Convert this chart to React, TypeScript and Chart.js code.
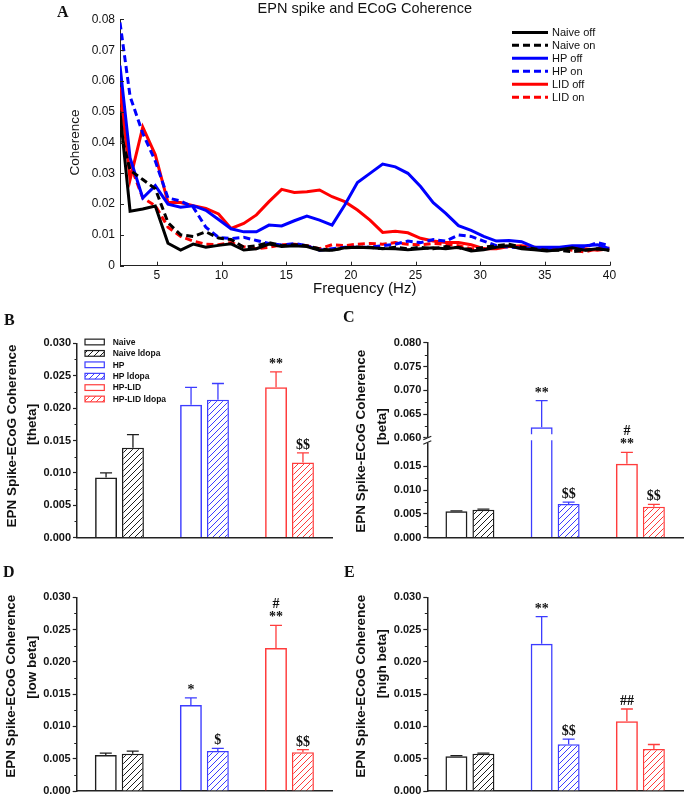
import React, { useEffect, useRef } from 'react';
import { Chart, registerables } from 'chart.js';

Chart.register(...registerables);

const SANS = '"Liberation Sans", Arial, Helvetica, sans-serif';
const SERIF = '"Liberation Serif", "Times New Roman", serif';
const AXIS = '#222';

// ---------------- Panel A: spectra ----------------
const FREQ = [2.15, 2.93, 3.91, 4.88, 5.86, 6.84, 7.81, 8.79, 9.77, 10.74, 11.72, 12.7, 13.67, 14.65, 15.63, 16.6, 17.58, 18.55, 19.53, 20.51, 21.48, 22.46, 23.44, 24.41, 25.39, 26.37, 27.34, 28.32, 29.3, 30.27, 31.25, 32.23, 33.2, 34.18, 35.16, 36.13, 37.11, 38.09, 39.06, 40.0];
const NAIVE_OFF = [0.05, 0.0177, 0.0184, 0.0194, 0.0073, 0.0051, 0.007, 0.006, 0.0066, 0.0071, 0.0051, 0.0055, 0.007, 0.0062, 0.0065, 0.0062, 0.005, 0.005, 0.0058, 0.006, 0.0058, 0.0056, 0.0055, 0.0052, 0.0055, 0.0058, 0.0055, 0.006, 0.0048, 0.0052, 0.006, 0.0065, 0.0055, 0.0052, 0.0048, 0.0052, 0.0058, 0.005, 0.0055, 0.005];
const NAIVE_ON = [0.044, 0.031, 0.028, 0.025, 0.014, 0.01, 0.0095, 0.011, 0.009, 0.0085, 0.006, 0.0065, 0.0075, 0.0065, 0.0068, 0.0065, 0.0055, 0.005, 0.0058, 0.006, 0.006, 0.0055, 0.006, 0.0055, 0.006, 0.0055, 0.0062, 0.0058, 0.0052, 0.006, 0.0065, 0.007, 0.006, 0.0055, 0.005, 0.005, 0.0045, 0.005, 0.0055, 0.005];
const HP_OFF = [0.065, 0.035, 0.022, 0.026, 0.02, 0.019, 0.0195, 0.018, 0.015, 0.012, 0.011, 0.011, 0.0132, 0.0129, 0.0146, 0.0161, 0.0148, 0.0132, 0.0197, 0.027, 0.03, 0.033, 0.0321, 0.03, 0.0257, 0.0205, 0.017, 0.013, 0.0115, 0.0095, 0.008, 0.0082, 0.0078, 0.006, 0.006, 0.006, 0.0065, 0.0065, 0.0068, 0.0055];
const HP_ON = [0.079, 0.055, 0.043, 0.034, 0.022, 0.021, 0.019, 0.0125, 0.0092, 0.0088, 0.0092, 0.0082, 0.0072, 0.0067, 0.0072, 0.0065, 0.005, 0.0055, 0.006, 0.006, 0.006, 0.0065, 0.007, 0.008, 0.0075, 0.0085, 0.008, 0.01, 0.0095, 0.008, 0.0065, 0.006, 0.0058, 0.0055, 0.0055, 0.0055, 0.006, 0.006, 0.0075, 0.0065];
const LID_OFF = [0.058, 0.028, 0.045, 0.036, 0.0205, 0.0205, 0.0195, 0.0186, 0.0168, 0.0121, 0.0137, 0.0165, 0.0208, 0.0248, 0.0238, 0.024, 0.0246, 0.0224, 0.0208, 0.0181, 0.0148, 0.0108, 0.0112, 0.0107, 0.0089, 0.008, 0.0075, 0.0075, 0.0068, 0.0055, 0.0055, 0.0062, 0.0065, 0.006, 0.0055, 0.0055, 0.006, 0.0055, 0.005, 0.0055];
const LID_ON = [0.055, 0.033, 0.022, 0.0195, 0.0125, 0.0095, 0.008, 0.007, 0.0068, 0.0075, 0.0062, 0.0055, 0.006, 0.0068, 0.007, 0.0065, 0.0055, 0.0068, 0.0065, 0.007, 0.0072, 0.007, 0.0075, 0.007, 0.0068, 0.0072, 0.007, 0.0065, 0.0055, 0.0055, 0.006, 0.0065, 0.006, 0.0055, 0.0055, 0.0058, 0.005, 0.0045, 0.0055, 0.006];
const A_LABELS = ['Naive off', 'Naive on', 'HP off', 'HP on', 'LID off', 'LID on'];
const A_X_TICKS = [5, 10, 15, 20, 25, 30, 35, 40];
const A_Y_TICKS = [0, 0.01, 0.02, 0.03, 0.04, 0.05, 0.06, 0.07, 0.08];

// ---------------- Bar panels ----------------
const GROUPS = ['Naive', 'HP', 'HP-LID'];
const BAR_LEGEND = ['Naive', 'Naive ldopa', 'HP', 'HP ldopa', 'HP-LID', 'HP-LID ldopa'];
const BAR_TICKS = [0, 0.005, 0.01, 0.015, 0.02, 0.025, 0.03];
const BETA_LOW_TICKS = [0, 0.005, 0.01, 0.015];
const BETA_HIGH_TICKS = [0.06, 0.065, 0.07, 0.075, 0.08];

const THETA_OFF = [0.0093, 0.0205, 0.0232];
const THETA_OFF_SEM = [0.0007, 0.0027, 0.0024];
const THETA_ON = [0.0139, 0.0213, 0.0116];
const THETA_ON_SEM = [0.002, 0.0025, 0.0015];
const THETA_SIG_OFF = [[], [], ['**']];
const THETA_SIG_ON = [[], [], ['$$']];

const BETA_OFF = [0.00555, 0.0622, 0.01555];
const BETA_OFF_SEM = [0.0001, 0.0056, 0.0024];
const BETA_ON = [0.0059, 0.0071, 0.0065];
const BETA_ON_SEM = [0.0001, 0.0004, 0.0005];
const BETA_SIG_OFF = [[], ['**'], ['#', '**']];
const BETA_SIG_ON = [[], ['$$'], ['$$']];

const LOWBETA_OFF = [0.00558, 0.01332, 0.02215];
const LOWBETA_OFF_SEM = [0.0003, 0.0011, 0.0035];
const LOWBETA_ON = [0.00578, 0.0062, 0.006];
const LOWBETA_ON_SEM = [0.0004, 0.0004, 0.0004];
const LOWBETA_SIG_OFF = [[], ['*'], ['#', '**']];
const LOWBETA_SIG_ON = [[], ['$'], ['$$']];

const HIGHBETA_OFF = [0.00537, 0.02282, 0.0108];
const HIGHBETA_OFF_SEM = [0.0001, 0.0042, 0.0019];
const HIGHBETA_ON = [0.00578, 0.00723, 0.0065];
const HIGHBETA_ON_SEM = [0.0001, 0.0008, 0.0007];
const HIGHBETA_SIG_OFF = [[], ['**'], ['##']];
const HIGHBETA_SIG_ON = [[], ['$$'], []];

const GROUP_COLORS = ['#1e1e1e', '#3c3cff', '#ff3c3c'];

function makeHatch(color: string): any {
  const s = 6;
  const c = document.createElement('canvas');
  c.width = s;
  c.height = s;
  const g = c.getContext('2d');
  if (!g) return '#fff';
  g.fillStyle = '#fff';
  g.fillRect(0, 0, s, s);
  g.strokeStyle = color;
  g.lineWidth = 1;
  g.beginPath();
  g.moveTo(-1, s + 1);
  g.lineTo(s + 1, -1);
  g.moveTo(-1, 1);
  g.lineTo(1, -1);
  g.moveTo(s - 1, s + 1);
  g.lineTo(s + 1, s - 1);
  g.stroke();
  return g.createPattern(c, 'repeat') || '#fff';
}

function LinePanel() {
  const ref = useRef<HTMLCanvasElement>(null);
  useEffect(() => {
    const canvas = ref.current;
    if (!canvas) return;
    const series = [
      { data: NAIVE_OFF, color: '#000000', dash: [] as number[] },
      { data: NAIVE_ON, color: '#000000', dash: [7, 4] },
      { data: HP_OFF, color: '#0000ff', dash: [] as number[] },
      { data: HP_ON, color: '#0000ff', dash: [7, 4] },
      { data: LID_OFF, color: '#ff0000', dash: [] as number[] },
      { data: LID_ON, color: '#ff0000', dash: [7, 4] },
    ];
    const extras = {
      id: 'lineExtras',
      afterDraw(chart: any) {
        const { ctx, chartArea } = chart;
        ctx.save();
        // inward tick marks
        const xs = chart.scales.x;
        const ys = chart.scales.y;
        ctx.strokeStyle = AXIS;
        ctx.lineWidth = 1;
        ctx.beginPath();
        xs.ticks.forEach((t: any) => {
          const px = Math.round(xs.getPixelForValue(t.value)) + 0.5;
          ctx.moveTo(px, chartArea.bottom);
          ctx.lineTo(px, chartArea.bottom - 4);
        });
        ys.ticks.forEach((t: any) => {
          const py = Math.round(ys.getPixelForValue(t.value)) + 0.5;
          ctx.moveTo(chartArea.left, py);
          ctx.lineTo(chartArea.left + 4, py);
        });
        ctx.stroke();
        // legend
        const x0 = chartArea.right - 97.5;
        chart.data.datasets.forEach((ds: any, i: number) => {
          const yy = chartArea.top + 13 + i * 12.95;
          ctx.strokeStyle = ds.borderColor;
          ctx.lineWidth = 3;
          ctx.setLineDash(ds.borderDash || []);
          ctx.beginPath();
          ctx.moveTo(x0, yy);
          ctx.lineTo(x0 + 36, yy);
          ctx.stroke();
          ctx.setLineDash([]);
          ctx.fillStyle = '#111';
          ctx.font = `11px ${SANS}`;
          ctx.textAlign = 'left';
          ctx.textBaseline = 'middle';
          ctx.fillText(ds.label, x0 + 40, yy + 0.5);
        });
        ctx.restore();
      },
    };
    const chart = new Chart(canvas, {
      type: 'line',
      data: {
        datasets: series.map((s, k) => ({
          label: A_LABELS[k],
          data: FREQ.map((f, i) => ({ x: f, y: s.data[i] })),
          borderColor: s.color,
          borderDash: s.dash,
          borderWidth: 3,
          pointRadius: 0,
          fill: false,
          tension: 0,
        })),
      },
      options: {
        animation: false,
        responsive: false,
        events: [],
        layout: { padding: { left: 60, right: 75.5, top: 0, bottom: 0 } },
        plugins: {
          legend: { display: false },
          tooltip: { enabled: false },
          title: {
            display: true,
            text: 'EPN spike and ECoG Coherence',
            fullSize: false,
            color: '#111',
            font: { family: SANS, size: 14.5, weight: 'normal', lineHeight: 1.2 },
            padding: { top: 0, bottom: 2 },
          },
        },
        scales: {
          x: {
            type: 'linear',
            min: 2.15,
            max: 40,
            afterBuildTicks: (s: any) => {
              s.ticks = A_X_TICKS.map((v) => ({ value: v }));
            },
            afterFit: (s: any) => {
              s.height = 34.3;
            },
            ticks: { color: '#111', font: { family: SANS, size: 12 }, padding: 3, maxRotation: 0, autoSkip: false },
            grid: { display: false, drawTicks: false },
            border: { display: true, color: AXIS, width: 1 },
            title: {
              display: true,
              text: 'Frequency (Hz)',
              color: '#111',
              font: { family: SANS, size: 15, lineHeight: 1.2 },
              padding: { top: 0, bottom: 2.3 },
            },
          },
          y: {
            type: 'linear',
            min: 0,
            max: 0.08,
            afterBuildTicks: (s: any) => {
              s.ticks = A_Y_TICKS.map((v) => ({ value: v }));
            },
            afterFit: (s: any) => {
              s.width = 60;
            },
            ticks: {
              color: '#111',
              font: { family: SANS, size: 12 },
              padding: 5,
              autoSkip: false,
              callback: (v: any) => (Number(v) === 0 ? '0' : Number(v).toFixed(2)),
            },
            grid: { display: false, drawTicks: false },
            border: { display: true, color: AXIS, width: 1 },
            title: {
              display: true,
              text: 'Coherence',
              color: '#111',
              font: { family: SANS, size: 13.5, lineHeight: 1.2 },
              padding: { top: 7, bottom: 0 },
            },
          },
        },
      } as any,
      plugins: [extras],
    });
    return () => chart.destroy();
  }, []);
  return (
    <canvas
      ref={ref}
      width={685}
      height={300}
      style={{ position: 'absolute', left: 0, top: 0, width: 685, height: 300 }}
    />
  );
}

type Brk = { lowMax: number; highMin: number; highMax: number; base: number; lowTicks: number[]; highTicks: number[] };

type BarProps = {
  left: number;
  top: number;
  width: number;
  height: number;
  pad: { left: number; right: number; top: number; bottom: number };
  yWidth: number;
  titleLines: string[];
  titleX: number[];
  titleDy: number[];
  off: number[];
  offSem: number[];
  on: number[];
  onSem: number[];
  sigOff: string[][];
  sigOn: string[][];
  ticks: number[];
  max: number;
  brk?: Brk;
  legend?: boolean;
};

function yScaleOpts(min: number, max: number, ticks: number[], width: number, extra: any) {
  return {
    type: 'linear',
    position: 'left',
    min,
    max,
    stacked: false,
    afterBuildTicks: (s: any) => {
      s.ticks = ticks.map((v) => ({ value: v }));
    },
    afterFit: (s: any) => {
      s.width = width;
    },
    ticks: {
      color: '#111',
      font: { family: SANS, size: 11, weight: 'bold', lineHeight: 1.2 },
      padding: 2,
      autoSkip: false,
      callback: (v: any) => Number(v).toFixed(3),
    },
    grid: { display: true, drawOnChartArea: false, drawTicks: true, tickLength: 4, tickWidth: 1.2, tickColor: AXIS },
    border: { display: true, color: AXIS, width: 1.5 },
    ...extra,
  };
}

function BarPanel(p: BarProps) {
  const ref = useRef<HTMLCanvasElement>(null);
  useEffect(() => {
    const canvas = ref.current;
    if (!canvas) return;
    const hatches = GROUP_COLORS.map(makeHatch);
    const common = { borderWidth: 1.5, categoryPercentage: 0.633, barPercentage: 0.815, borderSkipped: 'start' };
    const datasets: any[] = [
      { ...common, label: 'off', data: p.off, backgroundColor: 'rgba(255,255,255,0)', borderColor: GROUP_COLORS, stack: 'off', yAxisID: 'y' },
      { ...common, label: 'on', data: p.on, backgroundColor: hatches, borderColor: GROUP_COLORS, stack: 'on', yAxisID: 'y' },
    ];
    const scales: any = {
      x: {
        type: 'category',
        stacked: true,
        offset: true,
        grid: { display: false, drawTicks: false },
        ticks: { display: false },
        border: { display: true, color: AXIS, width: 1.5 },
        afterFit: (s: any) => {
          s.height = 2;
        },
      },
    };
    const b = p.brk;
    if (b) {
      scales.y = yScaleOpts(0, b.lowMax, b.lowTicks, p.yWidth, { stack: 'broken', stackWeight: 1 });
      scales.yHigh = yScaleOpts(b.highMin, b.highMax, b.highTicks, p.yWidth, { stack: 'broken', stackWeight: 1 });
      datasets.push({
        ...common,
        label: 'off-high',
        data: p.off.map((v) => (v > b.lowMax ? [b.base, v] : null)),
        backgroundColor: 'rgba(255,255,255,0)',
        borderColor: GROUP_COLORS,
        stack: 'off',
        yAxisID: 'yHigh',
      });
      datasets.push({
        ...common,
        label: 'on-high',
        data: p.on.map((v) => (v > b.lowMax ? [b.base, v] : null)),
        backgroundColor: hatches,
        borderColor: GROUP_COLORS,
        stack: 'on',
        yAxisID: 'yHigh',
      });
    } else {
      scales.y = yScaleOpts(0, p.max, p.ticks, p.yWidth, {});
    }

    const pixelFor = (chart: any, v: number) => {
      const low = chart.scales.y;
      const high = chart.scales.yHigh;
      if (high && v > low.max) return high.getPixelForValue(v);
      return low.getPixelForValue(v);
    };

    const extras = {
      id: 'barExtras',
      afterDraw(chart: any) {
        const { ctx, chartArea } = chart;
        ctx.save();
        // minor ticks
        ['y', 'yHigh'].forEach((id) => {
          const sc = chart.scales[id];
          if (!sc) return;
          const t = sc.ticks.map((k: any) => k.value);
          ctx.strokeStyle = AXIS;
          ctx.lineWidth = 1;
          ctx.beginPath();
          for (let i = 0; i < t.length - 1; i++) {
            const py = Math.round(sc.getPixelForValue((t[i] + t[i + 1]) / 2)) + 0.5;
            ctx.moveTo(sc.right - 2.5, py);
            ctx.lineTo(sc.right, py);
          }
          ctx.stroke();
        });
        // axis break marks
        if (chart.scales.yHigh) {
          const sc = chart.scales.y;
          const x = sc.right;
          const y = sc.top;
          ctx.fillStyle = '#fff';
          ctx.fillRect(x - 2, y - 2.5, 4, 5);
          ctx.strokeStyle = AXIS;
          ctx.lineWidth = 1.2;
          ctx.beginPath();
          ctx.moveTo(x - 4, y - 0.5);
          ctx.lineTo(x + 4, y - 4);
          ctx.moveTo(x - 4, y + 4);
          ctx.lineTo(x + 4, y + 0.5);
          ctx.stroke();
        }
        // error bars + significance marks
        const sets = [
          { ds: 0, vals: p.off, sem: p.offSem, sig: p.sigOff },
          { ds: 1, vals: p.on, sem: p.onSem, sig: p.sigOn },
        ];
        sets.forEach((s) => {
          const meta = chart.getDatasetMeta(s.ds);
          meta.data.forEach((el: any, i: number) => {
            const v = s.vals[i];
            const e = s.sem[i];
            const x = el.x;
            const y0 = pixelFor(chart, v);
            const y1 = pixelFor(chart, v + e);
            ctx.strokeStyle = GROUP_COLORS[i];
            ctx.lineWidth = 1.3;
            ctx.beginPath();
            ctx.moveTo(x, y0);
            ctx.lineTo(x, y1);
            ctx.moveTo(x - 6, y1);
            ctx.lineTo(x + 6, y1);
            ctx.stroke();
            const lines = s.sig[i] || [];
            ctx.fillStyle = '#111';
            ctx.font = `bold 14px ${SERIF}`;
            ctx.textAlign = 'center';
            ctx.textBaseline = 'alphabetic';
            const n = lines.length;
            lines.forEach((txt, k) => {
              const fromBottom = n - 1 - k;
              ctx.fillText(txt, x, y1 - 4 - fromBottom * 13.5);
            });
          });
        });
        // y title (two lines)
        const midY = (chartArea.top + chartArea.bottom) / 2;
        ctx.fillStyle = '#111';
        ctx.font = `bold 13.5px ${SANS}`;
        ctx.textAlign = 'center';
        ctx.textBaseline = 'middle';
        p.titleLines.forEach((txt, k) => {
          ctx.save();
          ctx.translate(p.titleX[k], midY + p.titleDy[k]);
          ctx.rotate(-Math.PI / 2);
          ctx.fillText(txt, 0, 0);
          ctx.restore();
        });
        // legend
        if (p.legend) {
          const bx = chartArea.left + 8;
          BAR_LEGEND.forEach((lab, k) => {
            const g = Math.floor(k / 2);
            const hatched = k % 2 === 1;
            const yy = chartArea.top - 1.3 + k * 11.4;
            if (hatched) {
              ctx.fillStyle = hatches[g];
              ctx.fillRect(bx, yy - 2.85, 19.3, 5.7);
            }
            ctx.strokeStyle = GROUP_COLORS[g];
            ctx.lineWidth = 1.2;
            ctx.strokeRect(bx, yy - 2.85, 19.3, 5.7);
            ctx.fillStyle = '#111';
            ctx.font = `bold 8.5px ${SANS}`;
            ctx.textAlign = 'left';
            ctx.textBaseline = 'middle';
            ctx.fillText(lab, bx + 27.7, yy + 0.5);
          });
        }
        ctx.restore();
      },
    };

    const chart = new Chart(canvas, {
      type: 'bar',
      data: { labels: GROUPS, datasets },
      options: {
        animation: false,
        responsive: false,
        events: [],
        layout: { padding: p.pad },
        plugins: { legend: { display: false }, tooltip: { enabled: false }, title: { display: false } },
        scales,
      } as any,
      plugins: [extras],
    });
    return () => chart.destroy();
  }, []);
  return (
    <canvas
      ref={ref}
      width={p.width}
      height={p.height}
      style={{ position: 'absolute', left: p.left, top: p.top, width: p.width, height: p.height }}
    />
  );
}

const letter = (left: number, top: number): React.CSSProperties => ({
  position: 'absolute',
  left,
  top,
  fontFamily: SERIF,
  fontWeight: 'bold',
  fontSize: 16,
  lineHeight: '16px',
  color: '#111',
});

export default function App() {
  const TITLE = 'EPN Spike-ECoG Coherence';
  return (
    <div style={{ position: 'absolute', left: 0, top: 0, width: 685, height: 797, overflow: 'hidden', background: '#fff' }}>
      <LinePanel />
      <BarPanel
        left={0}
        top={300}
        width={340}
        height={250}
        pad={{ left: 0, right: 8, top: 43.3, bottom: 10.3 }}
        yWidth={77}
        titleLines={[TITLE, '[theta]']}
        titleX={[12, 32.3]}
        titleDy={[-4.5, -16]}
        off={THETA_OFF}
        offSem={THETA_OFF_SEM}
        on={THETA_ON}
        onSem={THETA_ON_SEM}
        sigOff={THETA_SIG_OFF}
        sigOn={THETA_SIG_ON}
        ticks={BAR_TICKS}
        max={0.03}
        legend
      />
      <BarPanel
        left={340}
        top={300}
        width={345}
        height={250}
        pad={{ left: 0, right: 2, top: 42.7, bottom: 10.3 }}
        yWidth={87.3}
        titleLines={[TITLE, '[beta]']}
        titleX={[21.7, 42.7]}
        titleDy={[1, -13.5]}
        off={BETA_OFF}
        offSem={BETA_OFF_SEM}
        on={BETA_ON}
        onSem={BETA_ON_SEM}
        sigOff={BETA_SIG_OFF}
        sigOn={BETA_SIG_ON}
        ticks={BETA_LOW_TICKS}
        max={0.0205}
        brk={{ lowMax: 0.0205, highMin: 0.0595, highMax: 0.08, base: 0.0607, lowTicks: BETA_LOW_TICKS, highTicks: BETA_HIGH_TICKS }}
      />
      <BarPanel
        left={0}
        top={545}
        width={340}
        height={260}
        pad={{ left: 0, right: 8, top: 52.3, bottom: 12 }}
        yWidth={76.7}
        titleLines={[TITLE, '[low beta]']}
        titleX={[11.7, 32.3]}
        titleDy={[-8, -27]}
        off={LOWBETA_OFF}
        offSem={LOWBETA_OFF_SEM}
        on={LOWBETA_ON}
        onSem={LOWBETA_ON_SEM}
        sigOff={LOWBETA_SIG_OFF}
        sigOn={LOWBETA_SIG_ON}
        ticks={BAR_TICKS}
        max={0.03}
      />
      <BarPanel
        left={340}
        top={545}
        width={345}
        height={260}
        pad={{ left: 0, right: 2, top: 52.3, bottom: 12 }}
        yWidth={87.3}
        titleLines={[TITLE, '[high beta]']}
        titleX={[21.7, 42.7]}
        titleDy={[-8, -30.5]}
        off={HIGHBETA_OFF}
        offSem={HIGHBETA_OFF_SEM}
        on={HIGHBETA_ON}
        onSem={HIGHBETA_ON_SEM}
        sigOff={HIGHBETA_SIG_OFF}
        sigOn={HIGHBETA_SIG_ON}
        ticks={BAR_TICKS}
        max={0.03}
      />
      <div style={letter(57, 4)}>A</div>
      <div style={letter(4, 312)}>B</div>
      <div style={letter(343, 309)}>C</div>
      <div style={letter(3, 564)}>D</div>
      <div style={letter(344, 564)}>E</div>
    </div>
  );
}
